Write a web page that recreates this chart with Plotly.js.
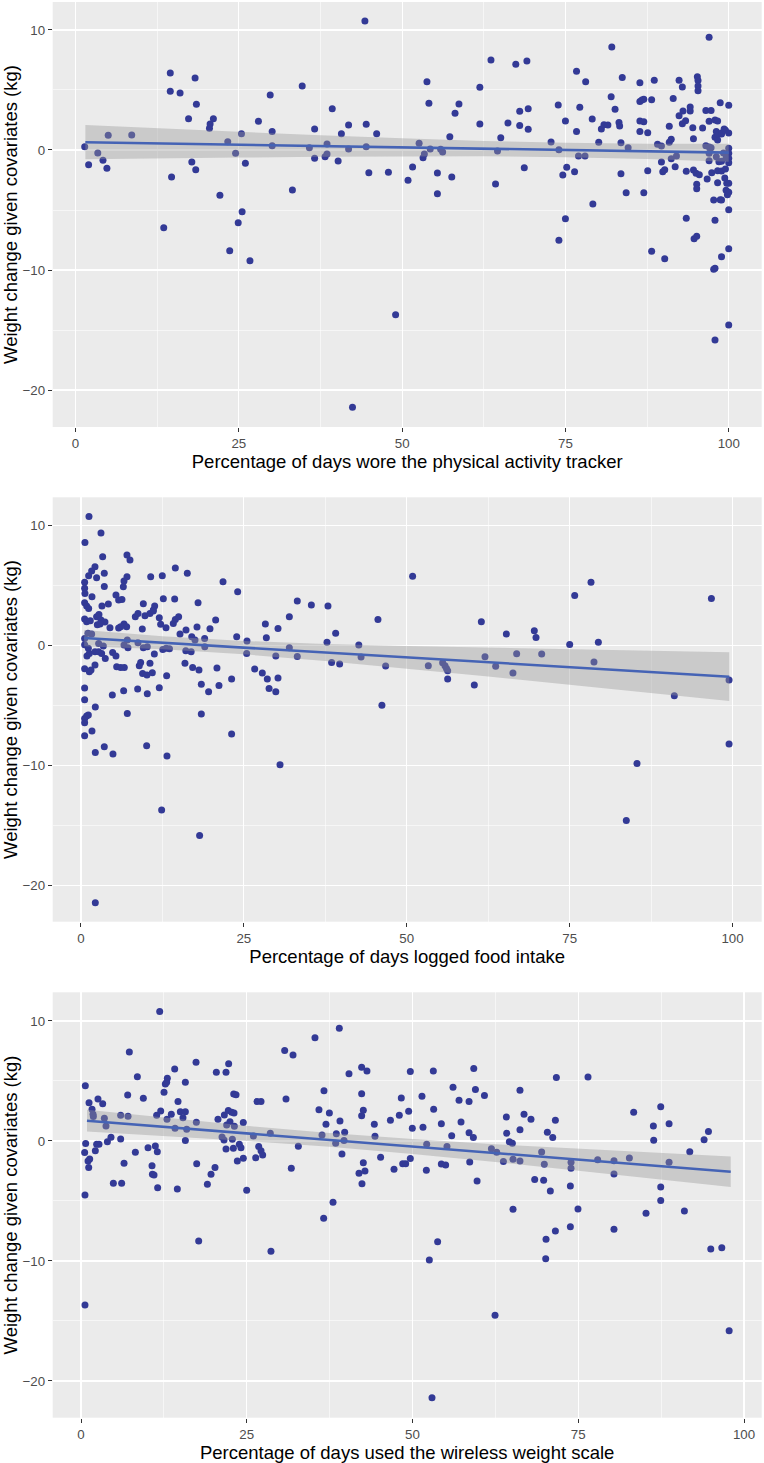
<!DOCTYPE html>
<html><head><meta charset="utf-8">
<script src="https://cdn.plot.ly/plotly-3.0.1.min.js"></script>
<style>html,body{margin:0;padding:0;background:#ffffff;}#chart{width:764px;height:1463px;}</style>
</head><body><div id="chart"></div>
<script>
// ---------- Panel 1: physical activity tracker ----------
const trackerX = [1.4,2.0,3.4,4.2,4.8,5.0,8.6,13.5,14.5,14.5,14.7,16.0,17.3,17.8,18.3,18.4,18.5,20.5,20.6,21.1,22.1,23.3,23.6,24.5,24.9,25.4,25.5,26.0,26.7,28.0,
29.8,30.1,30.1,33.2,34.7,35.8,36.6,36.6,38.2,38.5,38.5,39.3,40.2,40.7,41.8,41.8,42.4,44.3,44.5,44.5,44.9,46.1,47.9,49.0,50.9,51.6,52.6,53.2,53.4,53.8,
54.1,54.3,55.4,55.4,55.9,56.2,57.3,57.6,58.1,58.7,61.9,61.9,63.6,64.3,64.6,65.1,66.2,67.4,68.0,68.0,68.7,69.1,69.3,69.3,72.8,73.9,74.0,74.0,74.6,75.0,
75.0,75.2,76.4,76.7,76.7,77.0,77.2,78.0,78.1,79.1,79.2,80.1,80.5,80.9,81.5,82.0,82.1,82.6,83.2,83.3,83.5,83.5,83.7,84.3,84.6,86.4,86.4,86.4,86.4,86.7,
87.0,87.0,87.0,87.6,87.6,88.2,88.2,88.6,89.1,89.7,89.7,89.9,90.2,90.2,90.9,90.9,91.2,91.2,91.5,91.8,92.0,92.4,92.4,92.9,92.9,93.0,93.4,93.5,93.5,94.1,
94.1,94.5,94.6,94.6,94.7,95.1,95.0,95.1,95.1,95.2,95.3,95.3,95.3,95.5,96.0,96.5,96.5,96.7,97.0,97.0,97.0,97.0,97.0,97.3,97.3,97.4,97.7,97.7,97.9,97.9,
97.9,97.9,97.9,98.1,98.1,98.3,98.3,98.3,98.3,98.4,98.5,98.7,98.7,98.9,98.9,98.9,98.9,98.9,98.9,99.2,99.3,99.4,99.5,99.5,99.6,99.6,99.7,99.8,100,100,
100,100,100,100,100,100,100,100,100,100];
const trackerY = [0.28,-1.22,-0.25,-0.86,-1.53,1.22,1.25,-6.47,6.42,4.89,-2.25,4.75,2.61,-1.0,6.0,-1.64,3.81,1.81,2.17,2.61,-3.78,0.69,-8.39,-0.28,-6.06,1.36,-5.14,-1.11,-9.22,2.39,
4.58,1.53,0.36,-3.33,5.33,0.19,1.75,-0.69,-0.56,-0.33,0.5,3.44,-0.92,1.36,2.08,0.08,-21.44,10.75,2.14,0.28,-1.89,1.36,-1.86,-13.72,-2.53,-1.42,0.56,-0.64,-0.33,5.69,
3.89,0.08,-1.92,-3.64,0.06,-0.17,1.11,-2.25,3.06,3.83,5.22,2.17,7.5,-2.83,-0.08,1.03,2.25,7.14,2.03,3.22,-1.47,7.42,3.44,1.72,0.67,3.75,0.03,-7.53,-2.08,2.42,
-5.72,-1.44,-1.81,6.56,1.53,-0.5,3.56,-0.5,5.69,2.58,-4.5,0.64,1.75,2.11,2.08,4.44,8.58,3.39,2.28,2.0,-1.97,0.61,6.03,-3.56,0.19,5.61,4.03,2.42,1.53,4.17,
4.22,2.36,-3.56,1.44,-1.72,4.19,-8.44,5.81,0.47,0.33,-1.0,-1.81,-1.64,-9.06,1.97,0.64,0.89,-0.72,4.28,-1.39,-0.5,5.81,2.86,5.25,2.19,3.25,2.44,-1.78,-5.69,3.58,
3.25,1.86,0.94,-1.67,-7.39,-7.19,-1.94,-2.86,-3.22,6.11,5.78,5.33,4.94,-2.06,1.83,3.28,0.36,-2.42,9.39,2.39,0.25,-0.28,-0.89,3.28,0.19,-1.89,-4.17,-9.94,-9.86,-15.83,
-5.86,1.06,2.5,-0.56,1.53,-2.72,0.83,-1.72,2.42,1.31,-0.97,-4.14,3.94,1.33,-8.89,-4.17,-1.75,-0.94,1.42,-0.25,1.75,-2.33,-1.58,1.64,-3.36,-0.67,-2.78,-3.72,-4.97,
-8.22,-14.58,3.72,1.42,0.14,-0.28,-0.69,-1.06,-2.78,-3.53];
const trackerFitX = [1.5,12.5,25,37.5,50,62.5,75,87.5,100];
const trackerFitY = [0.65,0.55,0.44,0.33,0.22,0.11,0.0,-0.11,-0.22];
const trackerLo = [-0.78,-0.71,-0.63,-0.57,-0.53,-0.53,-0.60,-0.75,-0.97];
const trackerHi = [2.08,1.81,1.51,1.22,0.97,0.75,0.60,0.53,0.53];

// ---------- Panel 2: food logging ----------
const foodX = [1.23,0.61,3.07,3.33,7.06,7.52,2.15,1.64,1.18,2.4,3.58,3.58,0.56,0.56,0.61,1.69,7.06,6.6,6.5,10.7,12.48,14.48,16.32,21.8,24.05,
0.56,0.87,1.18,3.22,4.2,5.37,5.78,6.29,9.57,11.31,11.1,12.64,14.38,17.97,0.56,0.87,1.43,2.4,2.76,3.07,2.51,3.68,2.92,4.45,5.78,6.6,7.01,6.09,8.34,8.75,
9.41,9.82,10.58,11.1,12.02,12.23,13.05,14.17,14.48,14.99,16.12,17.81,15.2,19.8,20.67,17.0,17.5,18.98,23.9,25.48,0.56,1.07,1.64,0.56,1.13,0.92,1.28,2.15,2.71,3.17,
3.73,2.71,3.43,4.86,5.37,7.11,7.21,6.6,8.75,9.57,10.18,11.26,12.56,13.07,13.58,16.09,16.91,19.0,25.43,0.56,1.28,1.54,2.15,5.48,6.09,6.65,8.95,9.16,9.46,10.13,
10.59,10.95,13.15,15.96,17.14,18.11,20.87,23.12,26.66,0.56,0.56,0.56,0.56,0.87,1.13,0.56,1.69,2.2,8.7,6.55,4.81,7.11,10.18,12.02,18.47,19.59,21.18,18.47,23.12,
2.2,3.58,4.91,10.08,13.2,12.38,18.21,2.2,27.83,28.3,28.45,28.6,28.87,29.9,29.9,30.24,30.24,30.55,31.98,31.98,33.2,33.2,35.36,37.76,37.91,38.47,39.09,39.7,42.64,42.99,
45.58,46.19,46.76,50.9,53.31,55.51,55.87,56.1,56.28,56.28,60.37,61.45,62.01,63.65,65.29,66.3,66.87,69.58,69.84,70.71,75.01,75.78,78.28,78.74,79.41,83.7,85.34,91.07,96.76,99.47,99.47];
const foodY = [10.78,8.61,9.39,7.42,7.56,7.14,6.58,6.22,5.83,5.67,6.03,4.94,5.28,4.78,4.36,4.08,5.75,5.39,4.92,5.75,5.83,6.47,6.03,5.33,4.5,
3.58,3.31,3.11,3.31,3.47,4.22,3.81,3.86,3.5,3.31,2.97,3.92,3.89,3.58,2.22,2.0,2.08,2.42,2.61,2.14,1.75,1.97,1.81,1.5,1.47,1.81,1.58,1.58,2.42,2.69,
1.39,2.5,2.69,2.89,2.33,1.78,1.5,1.86,2.19,2.42,1.31,1.56,0.97,1.42,2.14,0.75,0.47,0.61,0.75,0.39,0.61,1.03,0.97,0.08,-0.22,-0.86,-0.64,-0.5,-0.5,-0.64,
-1.06,0.19,-0.03,-0.56,-0.86,0.47,-0.17,0.06,0.25,-0.17,-0.08,-0.69,-0.31,-0.22,-0.25,-0.42,-0.5,-0.08,-0.64,-1.92,-2.17,-2.03,-1.61,-1.75,-1.81,-1.81,-1.67,-1.39,-2.31,-2.44,
-1.47,-2.25,-2.5,-1.47,-1.81,-2.03,-1.86,-2.78,-1.94,-3.53,-4.5,-6.06,-6.42,-5.86,-5.78,-7.5,-7.11,-5.11,-3.61,-3.75,-4.11,-5.64,-4.0,-3.5,-3.22,-3.83,-3.31,-5.69,-7.36,
-8.89,-8.42,-9.03,-8.33,-9.19,-13.69,-15.81,-21.42,-2.28,1.81,0.67,-2.78,-3.56,-0.86,-3.83,1.44,-2.69,-9.92,2.42,-0.17,3.72,-0.89,3.39,0.28,3.31,-1.39,1.03,-1.53,0.06,-0.94,
2.19,-4.97,-1.69,5.78,-1.67,-1.42,-1.67,-1.89,-2.08,-2.78,-3.28,2.0,-0.92,-1.72,0.97,-2.28,-0.67,1.25,0.69,-0.69,0.11,4.19,5.28,-1.36,0.28,-14.56,-9.81,-4.17,3.94,-2.86,-8.19];
const foodFitX = [0.5,12.5,25,37.5,50,62.5,75,87.5,99.5];
const foodFitY = [0.64,0.25,-0.16,-0.56,-0.97,-1.37,-1.78,-2.18,-2.58];
const foodLo = [-0.04,-0.30,-0.72,-1.27,-1.91,-2.57,-3.25,-3.93,-4.61];
const foodHi = [1.32,0.80,0.40,0.15,-0.03,-0.17,-0.31,-0.43,-0.55];

// ---------- Panel 3: wireless weight scale ----------
const scaleX = [11.87,0.65,1.21,1.66,1.81,1.86,2.56,3.27,3.52,3.77,7.29,8.5,9.4,7.04,5.98,7.09,11.41,12.02,12.52,12.72,13.02,12.92,14.13,14.63,15.74,
17.35,20.41,21.87,22.27,23.03,23.38,26.55,12.97,13.62,14.18,14.98,15.38,15.74,15.94,17.4,20.66,21.62,22.22,22.73,23.08,21.97,22.47,23.13,24.48,21.27,21.57,22.83,26.0,0.55,0.7,
1.06,1.31,1.16,2.16,2.36,2.71,3.98,4.52,5.98,6.49,4.88,6.13,8.2,10.11,10.71,10.77,11.01,11.21,11.51,11.56,14.53,15.74,17.45,19.06,19.61,20.21,21.87,22.98,23.58,23.88,
24.13,24.48,24.99,26.35,26.8,0.6,17.75,0.6,27.15,27.15,27.4,28.55,28.65,30.72,30.92,31.72,31.98,32.78,35.29,35.89,36.35,36.6,36.65,36.95,37.46,38.01,38.41,38.51,38.96,39.06,
39.36,39.67,39.77,40.42,41.93,42.33,42.33,42.33,42.58,42.58,42.38,42.83,43.13,44.24,44.34,45.19,46.67,47.21,48.01,48.31,48.52,48.97,49.42,49.67,49.67,49.97,51.43,51.58,52.14,52.09,
52.54,52.94,53.14,53.19,53.79,54.35,54.35,55.0,55.2,55.91,56.11,57.02,57.32,58.53,58.53,58.63,59.18,59.24,59.49,59.74,60.85,61.9,62.45,62.7,63.71,64.16,64.21,64.61,65.06,65.16,
65.16,66.21,66.21,66.21,66.82,67.87,68.43,69.48,69.78,69.88,70.14,70.09,70.34,70.79,71.15,71.55,71.55,71.7,73.81,73.81,73.91,73.91,74.96,76.47,77.93,80.39,80.39,80.39,82.71,83.36,
85.22,86.33,86.38,87.44,87.44,87.44,88.7,88.7,91.01,91.82,93.98,94.64,94.99,96.65,97.76];
const scaleY = [10.78,4.61,3.19,2.64,2.22,2.03,3.5,3.11,1.89,1.25,7.42,5.36,3.56,3.83,2.14,2.06,2.14,2.5,4.06,4.75,5.22,4.89,6.0,3.28,4.89,
6.56,5.72,5.72,6.44,3.92,3.86,3.28,1.81,2.22,1.06,2.44,1.94,2.44,0.97,1.56,1.81,2.17,2.53,2.39,2.33,1.33,1.61,1.22,1.53,0.33,0.08,0.14,0.42,-0.97,-0.22,
-1.67,-1.5,-2.22,-0.81,-0.28,-0.28,-0.06,0.31,0.17,-1.86,-3.53,-3.53,-0.94,-0.56,-2.06,-2.78,-2.83,-0.42,-0.89,-3.89,-4.0,0.03,-1.89,-3.61,-2.78,-2.22,-0.67,-0.61,-1.67,-0.28,
-0.56,-1.44,-4.11,-1.39,-0.47,-4.5,-8.33,-13.67,3.28,-0.81,-1.17,0.64,-9.19,7.53,3.5,-2.28,7.17,-0.44,8.61,2.61,0.5,-6.44,4.19,1.39,2.33,-5.11,-0.19,0.61,9.39,1.67,
-1.08,0.03,0.72,5.61,-2.69,6.14,3.94,2.11,2.56,-1.81,-3.56,-2.5,5.83,1.39,0.39,-1.36,1.72,-2.36,2.14,3.58,-1.89,-1.89,2.47,5.78,-1.47,1.06,3.72,1.14,-0.28,-2.44,
-9.92,-21.39,5.83,2.64,-8.39,1.44,-1.92,-2.0,-0.47,0.44,4.47,3.39,1.58,3.28,0.69,-1.75,0.28,6.03,4.28,-3.33,3.78,-0.64,-14.53,-0.94,-1.72,2.0,0.64,-0.06,-0.19,-1.53,
-5.69,4.22,0.94,-1.67,2.22,1.81,-3.22,-0.92,-3.28,-1.94,-8.19,-9.81,0.72,-4.17,0.28,1.72,-7.5,5.28,-3.75,-7.14,-2.28,-1.78,-5.67,5.33,-1.56,-1.64,-2.75,-7.36,-1.42,2.39,
-6.03,1.25,0.06,2.86,-3.83,-4.97,1.44,-1.78,-5.83,-0.89,0.11,0.78,-9.0,-8.89,-15.81];
const scaleFitX = [0.9,12.5,25,37.5,50,62.5,75,87.5,98];
const scaleFitY = [1.69,1.18,0.63,0.09,-0.46,-1.01,-1.55,-2.10,-2.56];
const scaleLo = [0.78,0.43,0.00,-0.49,-1.08,-1.75,-2.46,-3.20,-3.83];
const scaleHi = [2.60,1.93,1.26,0.67,0.16,-0.27,-0.64,-1.00,-1.29];

// ---------- Labels ----------
const yTitle = 'Weight change given covariates (kg)';
const xTitles = ['Percentage of days wore the physical activity tracker',
                 'Percentage of days logged food intake',
                 'Percentage of days used the wireless weight scale'];
const xTickVals = [0,25,50,75,100];
const yTickVals = [-20,-10,0,10];

const panels = [
  {x: trackerX, y: trackerY, fx: trackerFitX, fy: trackerFitY, lo: trackerLo, hi: trackerHi},
  {x: foodX, y: foodY, fx: foodFitX, fy: foodFitY, lo: foodLo, hi: foodHi},
  {x: scaleX, y: scaleY, fx: scaleFitX, fy: scaleFitY, lo: scaleLo, hi: scaleHi}
];

const W = 764, H = 1463;
const FONT = 'Liberation Sans, Arial, Helvetica, sans-serif';
const xDomain = [52.7/W, 761.7/W];
const yDomains = [[1-427/H, 1-2/H],[1-921.7/H, 1-497.3/H],[1-1417.7/H, 1-992.3/H]];
const xRanges = [[-3.5,105.05],[-4.34,104.48],[-4.27,102.67]];
const yRanges = [[-23.08,12.33],[-23.0,12.37],[-23.06,12.39]];

const POINT = '#333a96', LINE = '#4563b5';
const traces = [];
const layout = {
  width: W, height: H, showlegend: false,
  margin: {l:0, r:0, t:0, b:0, pad:0},
  paper_bgcolor: '#ffffff', plot_bgcolor: '#ebebeb',
  font: {family: FONT, color: '#4d4d4d'}
};

panels.forEach((p, i) => {
  const s = i === 0 ? '' : String(i+1);
  const xa = 'x' + s, ya = 'y' + s;
  traces.push({type:'scatter', mode:'markers', x:p.x, y:p.y, xaxis:xa, yaxis:ya,
    marker:{size:7, color:POINT, line:{width:0}}, hoverinfo:'skip'});
  traces.push({type:'scatter', mode:'lines', x:p.fx.concat(p.fx.slice().reverse()),
    y:p.hi.concat(p.lo.slice().reverse()), xaxis:xa, yaxis:ya, fill:'toself',
    fillcolor:'rgba(153,153,153,0.4)', line:{width:0}, hoverinfo:'skip'});
  traces.push({type:'scatter', mode:'lines', x:p.fx, y:p.fy, xaxis:xa, yaxis:ya,
    line:{color:LINE, width:2.6}, hoverinfo:'skip'});
  layout['xaxis'+s] = {
    domain: xDomain, anchor: ya, range: xRanges[i], tickmode:'array', tickvals:xTickVals,
    ticks:'outside', ticklen:4, tickwidth:1, tickcolor:'#333333',
    tickfont:{size:13.3, color:'#4d4d4d', family:FONT},
    showgrid:true, gridcolor:'#ffffff', gridwidth:1.1, zeroline:false, showline:false,
    minor:{tickmode:'array', tickvals:[12.5,37.5,62.5,87.5], showgrid:true, gridcolor:'#ffffff', gridwidth:0.55, ticks:''},
    title:{text:xTitles[i], font:{size:18.5, color:'#000000', family:FONT}, standoff:0},
    fixedrange:true
  };
  layout['yaxis'+s] = {
    domain: yDomains[i], anchor: xa, range: yRanges[i], tickmode:'array', tickvals:yTickVals,
    ticks:'outside', ticklen:4, tickwidth:1, tickcolor:'#333333',
    tickfont:{size:13.3, color:'#4d4d4d', family:FONT},
    showgrid:true, gridcolor:'#ffffff', gridwidth:1.1, zeroline:false, showline:false,
    minor:{tickmode:'array', tickvals:[-15,-5,5], showgrid:true, gridcolor:'#ffffff', gridwidth:0.55, ticks:''},
    title:{text:yTitle, font:{size:18.5, color:'#000000', family:FONT}, standoff:6},
    fixedrange:true
  };
});

Plotly.newPlot('chart', traces, layout, {staticPlot:true, displayModeBar:false});
</script>
</body></html>
